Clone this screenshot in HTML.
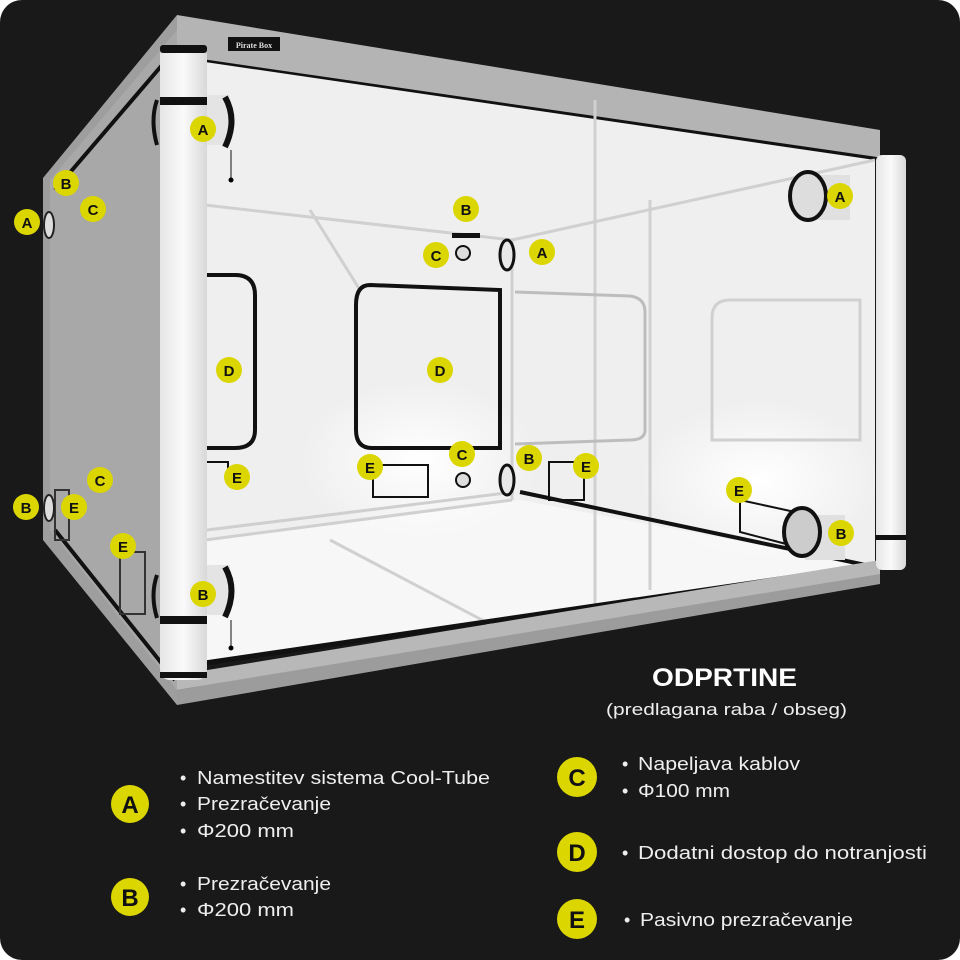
<!DOCTYPE html>
<html><head><meta charset="utf-8"><style>
html,body{margin:0;padding:0;background:#fff;}
.wrap{width:960px;height:960px;background:#191919;border-radius:22px;overflow:hidden;position:relative;font-family:"Liberation Sans",sans-serif;}
svg{position:absolute;left:0;top:0}
</style></head><body><div class="wrap">
<svg width="960" height="960" viewBox="0 0 960 960">
<defs>
<radialGradient id="gl" cx="0.5" cy="0.5" r="0.5"><stop offset="0" stop-color="#ffffff"/><stop offset="1" stop-color="#ffffff" stop-opacity="0"/></radialGradient>
<linearGradient id="pil" x1="0" x2="1"><stop offset="0" stop-color="#e6e6e6"/><stop offset="0.5" stop-color="#fafafa"/><stop offset="1" stop-color="#d8d8d8"/></linearGradient>
</defs>
<polygon points="43,178 177,15 177,705 43,540" fill="#9e9e9e"/>
<polygon points="50,180 177,30 177,690 50,530" fill="#a8a8a8"/>
<line x1="55" y1="190" x2="175" y2="50" stroke="#111" stroke-width="4"/>
<line x1="55" y1="530" x2="175" y2="680" stroke="#111" stroke-width="4"/>
<polygon points="177,15 880,130 880,160 205,60 177,60" fill="#b4b4b4"/>
<line x1="205" y1="62" x2="880" y2="160" stroke="#111" stroke-width="5"/>
<polygon points="205,62 875,160 875,567 205,665" fill="#efefef"/>
<polygon points="205,540 520,500 875,567 205,665" fill="#f7f7f7"/>
<ellipse cx="420" cy="460" rx="120" ry="80" fill="url(#gl)"/>
<ellipse cx="760" cy="480" rx="120" ry="80" fill="url(#gl)"/>
<g stroke="#d0d0d0" stroke-width="3" fill="none">
<line x1="595" y1="100" x2="595" y2="610"/>
<line x1="512" y1="240" x2="512" y2="500"/>
<line x1="205" y1="205" x2="512" y2="240"/>
<line x1="512" y1="240" x2="875" y2="160"/>
<line x1="205" y1="540" x2="512" y2="500"/>
<line x1="310" y1="210" x2="360" y2="290"/>
<line x1="330" y1="540" x2="520" y2="640"/>
<line x1="650" y1="200" x2="650" y2="590"/>
</g>
<path d="M370,285 L500,290 L500,448 L372,448 Q356,448 356,430 L356,305 Q356,285 370,285 Z" fill="none" stroke="#111" stroke-width="4"/>
<path d="M207,275 L235,275 Q255,275 255,295 L255,430 Q255,448 235,448 L207,448" fill="none" stroke="#111" stroke-width="4"/>
<path d="M515,292 L630,296 Q645,298 645,312 L645,430 Q645,440 630,440 L515,444" fill="none" stroke="#bdbdbd" stroke-width="3"/>
<path d="M730,300 L860,300 L860,440 L712,440 L712,318 Q712,300 730,300Z" fill="none" stroke="#d0d0d0" stroke-width="3"/>
<line x1="205" y1="663" x2="875" y2="565" stroke="#111" stroke-width="5"/>
<line x1="520" y1="492" x2="875" y2="567" stroke="#111" stroke-width="4"/>
<line x1="207" y1="530" x2="514" y2="492" stroke="#cfcfcf" stroke-width="3"/>
<polygon points="177,690 880,572 880,584 177,705" fill="#9c9c9c"/>
<polygon points="177,675 880,560 880,574 177,690" fill="#b8b8b8"/>
<g fill="none" stroke="#111" stroke-width="2">
<rect x="373" y="465" width="55" height="32"/>
<rect x="549" y="462" width="35" height="38"/>
<polyline points="207,462 228,462 228,478"/>
<polyline points="740,500 740,532 790,545"/>
<line x1="740" y1="500" x2="795" y2="512"/>
<rect x="120" y="552" width="25" height="62" stroke="#333"/>
<rect x="55" y="490" width="14" height="50" stroke="#333"/>
</g>
<ellipse cx="507" cy="480" rx="7" ry="15" fill="#e8e8e8" stroke="#111" stroke-width="3"/>
<ellipse cx="507" cy="255" rx="7" ry="15" fill="#e8e8e8" stroke="#111" stroke-width="3"/>
<circle cx="463" cy="253" r="7" fill="#ddd" stroke="#111" stroke-width="2"/>
<circle cx="463" cy="480" r="7" fill="#ddd" stroke="#111" stroke-width="2"/>
<rect x="452" y="233" width="28" height="5" fill="#111"/>
<rect x="810" y="175" width="40" height="45" fill="#e0e0e0"/>
<ellipse cx="808" cy="196" rx="18" ry="24" fill="#ddd" stroke="#111" stroke-width="4"/>
<rect x="805" y="515" width="40" height="45" fill="#e0e0e0"/>
<ellipse cx="802" cy="532" rx="18" ry="24" fill="#ccc" stroke="#111" stroke-width="4"/>
<ellipse cx="49" cy="225" rx="5" ry="13" fill="#ddd" stroke="#222" stroke-width="2"/>
<ellipse cx="49" cy="508" rx="5" ry="13" fill="#ddd" stroke="#222" stroke-width="2"/>
<rect x="205" y="95" width="25" height="50" fill="#e4e4e4"/>
<path d="M225,97 Q238,120 225,147" fill="none" stroke="#111" stroke-width="6"/>
<path d="M157,100 Q150,120 157,145" fill="none" stroke="#111" stroke-width="4"/>
<rect x="205" y="565" width="25" height="50" fill="#e4e4e4"/>
<path d="M225,567 Q238,590 225,617" fill="none" stroke="#111" stroke-width="6"/>
<path d="M157,575 Q150,595 157,618" fill="none" stroke="#111" stroke-width="4"/>
<line x1="231" y1="150" x2="231" y2="180" stroke="#111"/><circle cx="231" cy="180" r="2.5"/>
<line x1="231" y1="620" x2="231" y2="648" stroke="#111"/><circle cx="231" cy="648" r="2.5"/>
<rect x="160" y="45" width="47" height="635" rx="10" fill="url(#pil)"/>
<rect x="160" y="97" width="47" height="8" fill="#111"/>
<rect x="160" y="616" width="47" height="8" fill="#111"/>
<rect x="160" y="672" width="47" height="6" fill="#111"/>
<rect x="160" y="45" width="47" height="8" rx="3" fill="#111"/>
<rect x="876" y="155" width="30" height="415" rx="6" fill="url(#pil)"/>
<rect x="876" y="535" width="30" height="5" fill="#111"/>
<rect x="228" y="37" width="52" height="14" fill="#111"/>
<text x="254" y="48" font-size="8" fill="#ddd" text-anchor="middle" font-family="Liberation Serif,serif" font-weight="bold">Pirate Box</text>
<g font-weight="bold" font-size="15" text-anchor="middle" fill="#111">
<g fill="#dcd600">
<circle cx="203" cy="129" r="13"/><circle cx="66" cy="183" r="13"/><circle cx="93" cy="209" r="13"/><circle cx="27" cy="222" r="13"/>
<circle cx="466" cy="209" r="13"/><circle cx="436" cy="255" r="13"/><circle cx="542" cy="252" r="13"/><circle cx="840" cy="196" r="13"/>
<circle cx="229" cy="370" r="13"/><circle cx="440" cy="370" r="13"/><circle cx="462" cy="454" r="13"/><circle cx="529" cy="458" r="13"/>
<circle cx="237" cy="477" r="13"/><circle cx="370" cy="467" r="13"/><circle cx="586" cy="466" r="13"/><circle cx="100" cy="480" r="13"/>
<circle cx="26" cy="507" r="13"/><circle cx="74" cy="507" r="13"/><circle cx="123" cy="546" r="13"/><circle cx="203" cy="594" r="13"/>
<circle cx="739" cy="490" r="13"/><circle cx="841" cy="533" r="13"/>
</g>
<text x="203" y="135">A</text><text x="66" y="189">B</text><text x="93" y="215">C</text><text x="27" y="228">A</text>
<text x="466" y="215">B</text><text x="436" y="261">C</text><text x="542" y="258">A</text><text x="840" y="202">A</text>
<text x="229" y="376">D</text><text x="440" y="376">D</text><text x="462" y="460">C</text><text x="529" y="464">B</text>
<text x="237" y="483">E</text><text x="370" y="473">E</text><text x="586" y="472">E</text><text x="100" y="486">C</text>
<text x="26" y="513">B</text><text x="74" y="513">E</text><text x="123" y="552">E</text><text x="203" y="600">B</text>
<text x="739" y="496">E</text><text x="841" y="539">B</text>
</g>
<text x="652" y="686" font-size="25" font-weight="bold" fill="#fff" textLength="145" lengthAdjust="spacingAndGlyphs">ODPRTINE</text>
<text x="606" y="715" font-size="17" fill="#eee" textLength="241" lengthAdjust="spacingAndGlyphs">(predlagana raba / obseg)</text>
<g fill="#dcd600"><circle cx="130" cy="804" r="19"/><circle cx="130" cy="897" r="19"/><circle cx="577" cy="777" r="20"/><circle cx="577" cy="852" r="20"/><circle cx="577" cy="919" r="20"/></g>
<g font-weight="bold" font-size="24" fill="#111" text-anchor="middle">
<text x="130" y="813">A</text><text x="130" y="906">B</text><text x="577" y="786">C</text><text x="577" y="861">D</text><text x="577" y="928">E</text>
</g>
<g fill="#eee" font-size="18">
<text x="180" y="784">•</text><text x="197" y="784" textLength="293" lengthAdjust="spacingAndGlyphs">Namestitev sistema Cool-Tube</text>
<text x="180" y="810">•</text><text x="197" y="810" textLength="134" lengthAdjust="spacingAndGlyphs">Prezračevanje</text>
<text x="180" y="837">•</text><text x="197" y="837" textLength="97" lengthAdjust="spacingAndGlyphs">Φ200 mm</text>
<text x="180" y="890">•</text><text x="197" y="890" textLength="134" lengthAdjust="spacingAndGlyphs">Prezračevanje</text>
<text x="180" y="916">•</text><text x="197" y="916" textLength="97" lengthAdjust="spacingAndGlyphs">Φ200 mm</text>
<text x="622" y="770">•</text><text x="638" y="770" textLength="162" lengthAdjust="spacingAndGlyphs">Napeljava kablov</text>
<text x="622" y="797">•</text><text x="638" y="797" textLength="92" lengthAdjust="spacingAndGlyphs">Φ100 mm</text>
<text x="622" y="859">•</text><text x="638" y="859" textLength="289" lengthAdjust="spacingAndGlyphs">Dodatni dostop do notranjosti</text>
<text x="624" y="926">•</text><text x="640" y="926" textLength="213" lengthAdjust="spacingAndGlyphs">Pasivno prezračevanje</text>
</g>
</svg>
</div></body></html>
